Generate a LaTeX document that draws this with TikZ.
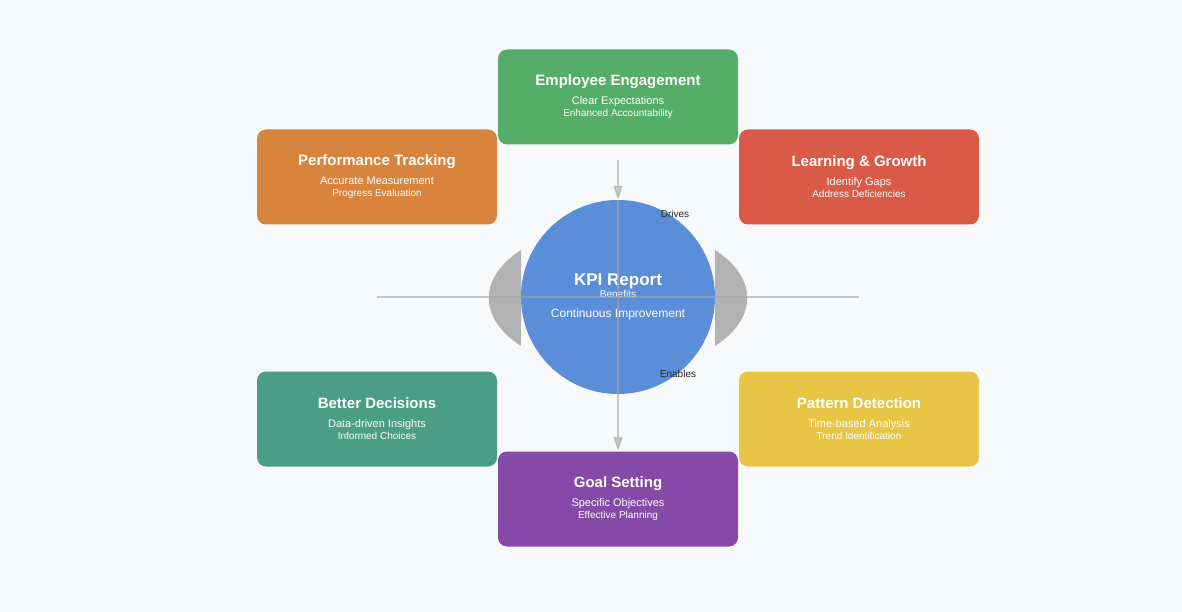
\documentclass[tikz,border=0pt]{standalone}
\usepackage{fontspec}
\setmainfont{Liberation Sans}
\usetikzlibrary{arrows.meta}
\definecolor{bg}{HTML}{F8F9FB}
\definecolor{cgreen}{HTML}{55AE67}
\definecolor{corange}{HTML}{D8843D}
\definecolor{cred}{HTML}{D85A47}
\definecolor{cteal}{HTML}{4A9E84}
\definecolor{cyellow}{HTML}{E8C544}
\definecolor{cpurple}{HTML}{8549A7}
\definecolor{cblue}{HTML}{5B8ED9}
\tikzset{
  card/.style={rounded corners=9pt,minimum width=240pt,minimum height=95pt,
               text=white,align=center,inner sep=0pt},
  link/.style={draw=gray!70,opacity=.6,line width=1.4pt},
  tag/.style={text=gray!30!black,font=\fontsize{10}{12}\selectfont}
}
\newcommand{\cardtext}[3]{\fontsize{15}{18}\selectfont\bfseries #1\\[7pt]
  \fontsize{11}{16}\selectfont\mdseries #2\\#3}
\begin{document}
\begin{tikzpicture}[x=1pt,y=-1pt,>={Triangle[length=14pt,width=9pt]}]
  \fill[bg] (0,0) rectangle (1182,612);

  % cards
  \node[card,fill=cgreen]  (engage)  at (618,97)  {\cardtext{Employee Engagement}{Clear Expectations}{Enhanced Accountability}};
  \node[card,fill=corange] (track)   at (377,177) {\cardtext{Performance Tracking}{Accurate Measurement}{Progress Evaluation}};
  \node[card,fill=cred]    (learn)   at (859,177) {\cardtext{Learning \& Growth}{Identify Gaps}{Address Deficiencies}};
  \node[card,fill=cteal]   (decide)  at (377,419) {\cardtext{Better Decisions}{Data-driven Insights}{Informed Choices}};
  \node[card,fill=cyellow] (pattern) at (859,419) {\cardtext{Pattern Detection}{Time-based Analysis}{Trend Identification}};
  \node[card,fill=cpurple] (goal)    at (618,499) {\cardtext{Goal Setting}{Specific Objectives}{Effective Planning}};

  % side lenses
  \fill[gray!60] (521,250) .. controls (478,278) and (478,318) .. (521,346) -- cycle;
  \fill[gray!60] (715,250) .. controls (758,278) and (758,318) .. (715,346) -- cycle;

  % hub
  \node[circle,fill=cblue,minimum size=194pt,text=white,align=center,inner sep=0pt] (hub) at (618,297)
    {\fontsize{17}{23}\selectfont\bfseries KPI Report\\Benefits\\[8pt]\fontsize{12}{14}\selectfont\mdseries Continuous Improvement};

  \coordinate (vtop)  at (618,160);
  \coordinate (vbot)  at (618,451);
  \coordinate (hleft) at (377,297);
  \coordinate (hright) at (859,297);

  \draw[link,->] (vtop) -- (hub.north);
  \draw[link,->] (hub.north) -- (vbot);
  \draw[link] (hleft) -- (hright);

  \node[tag] (drives)  at (675,214) {Drives};
  \node[tag] (enables) at (678,374) {Enables};
\end{tikzpicture}
\end{document}
